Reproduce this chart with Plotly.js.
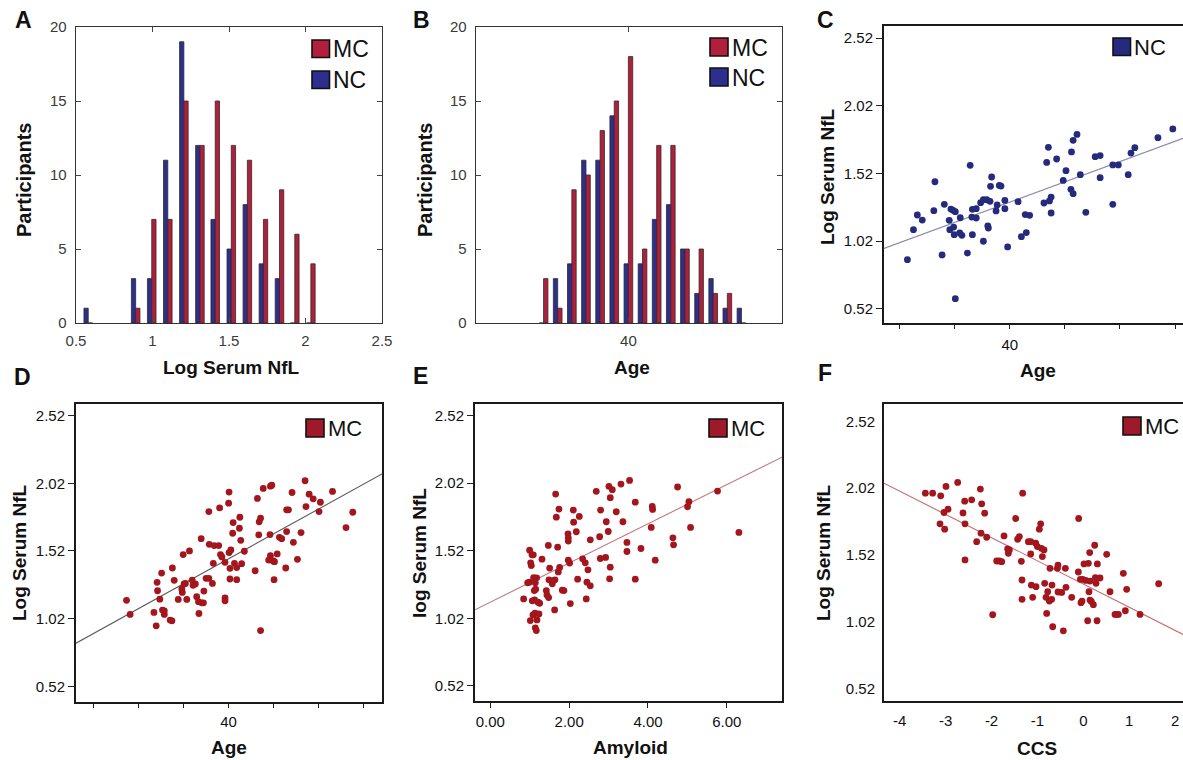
<!DOCTYPE html>
<html><head><meta charset="utf-8">
<script src="https://cdn.plot.ly/plotly-3.0.1.min.js"></script>
<style>html,body{margin:0;padding:0;background:#fff}</style>
</head><body><div id="chart" style="width:1183px;height:760px"></div>
<script>
// ---------- Panel A: histogram of log serum NfL ----------
const nflBins = [0.58, 0.89, 0.995, 1.10, 1.205, 1.31, 1.41, 1.515, 1.62, 1.725, 1.83, 1.93, 2.035];
const nflNC = [1, 3, 3, 11, 19, 12, 7, 5, 8, 4, 3, 0, 0];
const nflMC = [0, 1, 7, 7, 15, 12, 15, 12, 11, 7, 9, 6, 4];
const nflTicks = [0.5, 1, 1.5, 2, 2.5];
const nflTickText = ['0.5', '1', '1.5', '2', '2.5'];

// ---------- Panel B: histogram of age ----------
const ageBins = [22, 25, 28, 31, 34, 37, 40, 43, 46, 49, 52, 55, 58, 61, 64];
const ageNC = [0, 3, 4, 11, 11, 14, 4, 4, 7, 8, 5, 2, 3, 1, 1];
const ageMC = [3, 1, 9, 10, 13, 15, 18, 5, 12, 12, 5, 5, 2, 2, 0];
const countTicks = [0, 5, 10, 15, 20];

// ---------- Panel C: NC age vs log NfL ----------
const ncAge = [21.4,22.5,23.2,24.1,26.2,26.4,27.7,28.1,29.0,29.3,29.7,30.1,29.1,29.8,29.9,30.1,31.0,30.9,31.3,32.3,32.8,33.1,33.2,33.9,33.9,33.2,34.7,35.2,35.8,36.0,36.1,35.2,36.4,36.7,36.5,37.5,37.7,38.1,38.4,39.1,39.1,39.6,41.5,42.1,43.0,42.8,43.6,46.2,46.7,47.0,47.2,47.5,47.5,48.5,49.7,50.2,51.1,51.5,51.2,51.5,52.2,52.8,53.8,55.5,56.4,56.4,58.7,59.7,58.7,61.5,62.0,62.7,66.9,69.6];
const ncNfl = [0.882,1.104,1.212,1.175,1.244,1.458,0.917,1.291,1.173,1.256,1.247,1.237,1.104,1.123,1.067,0.594,1.192,1.079,1.062,0.931,1.579,1.197,1.254,1.259,1.190,1.067,1.303,1.325,1.325,1.131,1.116,1.018,1.313,1.493,1.424,1.242,1.286,1.431,1.426,1.320,1.259,0.976,1.311,1.052,1.082,1.215,1.210,1.301,1.601,1.712,1.316,1.345,1.227,1.626,1.468,1.540,1.402,1.370,1.678,1.764,1.808,1.510,1.232,1.643,1.651,1.488,1.582,1.582,1.291,1.510,1.670,1.710,1.784,1.848];

// ---------- Panel D: MC age vs log NfL ----------
const mcAge = [17.3,18.1,23.4,23.9,24.1,24.2,24.7,25.1,25.3,25.7,25.7,27.0,27.4,27.5,27.9,28.8,29.6,29.7,29.9,30.1,30.4,30.7,31.3,31.9,32.1,32.6,32.9,33.3,33.4,33.9,34.0,34.4,34.5,35.0,35.6,35.6,35.7,36.4,36.6,36.8,37.8,38.0,38.2,38.5,39.2,39.2,39.2,40.0,40.1,40.1,40.3,40.3,40.5,40.9,41.0,41.3,41.8,41.8,42.4,42.5,42.7,42.9,43.5,45.9,46.4,46.7,46.8,47.1,47.1,47.7,49.2,49.3,49.6,49.3,49.9,50.1,50.2,50.8,51.3,51.8,52.7,52.9,52.9,53.3,54.1,54.4,55.3,56.1,57.0,57.2,57.9,58.8,60.1,60.4,63.1,66.1,67.6,48.9];
const mcNflAge = [1.155,1.051,1.066,0.967,1.288,1.226,1.164,1.357,1.083,1.051,1.078,1.009,1.004,1.394,1.303,1.162,1.239,1.214,1.493,1.276,1.280,1.162,1.520,1.305,1.266,1.276,1.182,1.145,1.058,1.611,1.137,1.137,1.224,1.318,1.811,1.318,1.569,1.280,1.429,1.560,1.560,1.839,1.493,1.476,1.436,1.174,1.152,1.873,1.955,1.508,1.392,1.313,1.527,1.651,1.730,1.429,1.397,1.308,1.688,1.769,1.599,1.426,1.518,1.374,1.908,1.639,1.735,1.762,0.932,1.982,1.641,1.999,2.006,1.485,1.446,1.308,1.441,1.498,1.621,1.611,1.394,1.663,1.824,1.824,1.952,1.584,1.458,1.656,2.039,1.848,1.940,1.905,1.811,1.880,1.960,1.693,1.806,1.453];

// ---------- Panel E: MC amyloid vs log NfL ----------
const mcAmy = [0.845,0.947,0.989,0.997,1.014,1.023,1.040,1.057,1.065,1.082,1.090,1.099,1.116,1.124,1.133,1.141,1.141,1.150,1.167,1.175,1.183,1.209,1.234,1.251,1.310,1.420,1.437,1.471,1.479,1.488,1.505,1.572,1.589,1.631,1.640,1.657,1.674,1.708,1.724,1.741,1.758,1.826,1.868,1.970,1.978,1.978,1.978,2.012,2.029,2.105,2.113,2.181,2.215,2.257,2.342,2.409,2.434,2.451,2.477,2.536,2.536,2.688,2.773,2.798,2.790,2.925,2.942,2.992,3.009,3.043,3.043,3.026,3.094,3.195,3.314,3.364,3.466,3.466,3.533,3.677,3.677,3.821,4.083,4.108,4.117,4.184,4.632,4.649,4.751,5.004,5.038,5.080,5.765,6.306];
const mcNflAmy = [1.164,1.283,1.288,1.525,1.004,1.431,1.411,1.490,1.150,1.046,1.490,1.322,1.226,1.157,1.058,1.283,0.950,1.236,0.930,1.320,1.009,1.140,1.053,1.132,1.458,1.226,1.194,1.560,1.174,1.305,1.392,1.276,1.300,1.083,1.305,1.940,1.769,1.547,1.364,1.829,1.397,1.229,1.226,1.646,1.616,1.592,1.451,1.429,1.130,1.821,1.732,1.661,1.310,1.774,1.461,1.431,1.164,1.288,1.379,1.601,1.261,1.960,1.624,1.821,1.463,1.471,1.735,1.663,1.997,1.913,1.399,1.313,1.972,1.809,2.014,1.735,1.582,1.515,2.041,1.880,1.310,1.537,1.693,1.848,1.826,1.451,1.616,1.564,1.992,1.846,1.883,1.693,1.962,1.656];

// ---------- Panel F: MC CCS vs log NfL ----------
const mcCcs = [-3.442,-3.283,-3.108,-3.036,-2.992,-2.948,-3.123,-3.021,-2.738,-2.622,-2.585,-2.578,-2.578,-2.433,-2.324,-2.244,-2.215,-2.230,-2.150,-2.106,-1.975,-1.888,-1.830,-1.779,-1.728,-1.649,-1.634,-1.612,-1.474,-1.431,-1.394,-1.351,-1.336,-1.336,-1.322,-1.198,-1.147,-1.147,-1.133,-1.104,-1.038,-1.031,-1.002,-0.959,-0.930,-0.915,-0.893,-0.857,-0.842,-0.813,-0.799,-0.777,-0.741,-0.726,-0.690,-0.683,-0.668,-0.566,-0.552,-0.552,-0.472,-0.436,-0.392,-0.378,-0.254,-0.109,-0.102,-0.065,-0.051,-0.029,-0.015,0.015,0.051,0.094,0.109,0.123,0.138,0.145,0.145,0.174,0.218,0.247,0.261,0.276,0.305,0.298,0.363,0.508,0.581,0.690,0.726,0.763,0.871,0.915,0.944,1.235,1.641];
const mcNflCcs = [1.983,1.983,1.963,1.838,2.033,1.863,1.753,1.713,2.063,1.835,1.923,1.753,1.483,1.933,1.620,2.013,1.903,1.683,1.833,1.653,1.073,1.475,1.475,1.470,1.663,1.565,1.533,1.558,1.793,1.638,1.658,1.473,1.333,1.188,1.983,1.620,1.620,1.528,1.295,1.203,1.608,1.283,1.583,1.713,1.753,1.570,1.508,1.558,1.308,1.203,1.083,1.245,1.175,1.420,1.188,1.295,0.983,1.420,1.445,1.243,1.240,0.953,1.420,1.278,1.203,1.393,1.793,1.338,1.163,1.175,1.338,1.453,1.330,1.028,1.458,1.245,1.538,1.325,1.183,1.173,1.148,1.593,1.350,1.308,1.453,1.028,1.348,1.525,1.245,1.075,1.075,1.075,1.383,1.103,1.263,1.075,1.305];

const nflTickVals = [0.52, 1.02, 1.52, 2.02, 2.52];
const ageTickVals = [10, 20, 30, 40, 50, 60, 70];
const ageTickText = ['', '', '', '40', '', '', ''];
const amyTickVals = [0, 2, 4, 6];
const ccsTickVals = [-4, -3, -2, -1, 0, 1, 2];

// ---------- style ----------
const FONT = 'Liberation Sans, Arial, Helvetica, sans-serif';
const W = 1183, H = 760;
const px = v => v / W, py = v => 1 - v / H;
const COL = {
  mcBar: '#b11f3a', ncBar: '#2c2f8d', barLine: '#2b2b2b',
  mcDot: '#a3161e', ncDot: '#262a7c',
  mcBox: '#9e1a2b', ncBox: '#252a7e'
};

function fit(xs, ys) {
  const n = xs.length;
  const mx = xs.reduce((a, b) => a + b, 0) / n, my = ys.reduce((a, b) => a + b, 0) / n;
  let sxy = 0, sxx = 0;
  for (let i = 0; i < n; i++) { sxy += (xs[i] - mx) * (ys[i] - my); sxx += (xs[i] - mx) ** 2; }
  const b = sxy / sxx; return { b, a: my - b * mx };
}

const ranges = {
  A: { x: [0.5, 2.5], y: [0, 20] },
  B: { x: [7.66, 72.6], y: [0, 20] },
  C: { x: [17.15, 71.45], y: [0.414, 2.609] },
  D: { x: [6.07, 74.1], y: [0.404, 2.606] },
  E: { x: [-0.389, 7.40], y: [0.409, 2.606] },
  F: { x: [-4.343, 2.171], y: [0.4275, 2.65] }
};

const traces = [];
// A bars
traces.push({ type: 'bar', x: nflBins, y: nflNC, xaxis: 'x', yaxis: 'y', width: 0.028, offset: -0.028,
  marker: { color: COL.ncBar, line: { color: COL.barLine, width: 0.8 } }, showlegend: false });
traces.push({ type: 'bar', x: nflBins, y: nflMC, xaxis: 'x', yaxis: 'y', width: 0.028, offset: 0,
  marker: { color: COL.mcBar, line: { color: COL.barLine, width: 0.8 } }, showlegend: false });
// B bars
traces.push({ type: 'bar', x: ageBins, y: ageNC, xaxis: 'x2', yaxis: 'y2', width: 0.92, offset: -0.92,
  marker: { color: COL.ncBar, line: { color: COL.barLine, width: 0.8 } }, showlegend: false });
traces.push({ type: 'bar', x: ageBins, y: ageMC, xaxis: 'x2', yaxis: 'y2', width: 0.92, offset: 0,
  marker: { color: COL.mcBar, line: { color: COL.barLine, width: 0.8 } }, showlegend: false });

function scatterPanel(xs, ys, xa, ya, dot, lineColor, r) {
  const f = fit(xs, ys);
  traces.push({ type: 'scatter', mode: 'lines', x: r.x, y: r.x.map(v => f.a + f.b * v), xaxis: xa, yaxis: ya,
    line: { color: lineColor, width: 1.1 }, showlegend: false, hoverinfo: 'skip' });
  traces.push({ type: 'scatter', mode: 'markers', x: xs, y: ys, xaxis: xa, yaxis: ya,
    marker: { color: dot, size: 6.8 }, showlegend: false });
}
scatterPanel(ncAge, ncNfl, 'x3', 'y3', COL.ncDot, '#8b8bab', ranges.C);
scatterPanel(mcAge, mcNflAge, 'x4', 'y4', COL.mcDot, '#5a5a5a', ranges.D);
scatterPanel(mcAmy, mcNflAmy, 'x5', 'y5', COL.mcDot, '#c27a7e', ranges.E);
scatterPanel(mcCcs, mcNflCcs, 'x6', 'y6', COL.mcDot, '#c46a6e', ranges.F);

const histTick = { family: FONT, size: 15, color: '#3a3a3a' };
const scatTick = { family: FONT, size: 15, color: '#111' };

function histX(dom, r, tv, tt) {
  return { domain: [px(dom[0]), px(dom[1])], range: r, tickvals: tv, ticktext: tt, ticks: 'inside', ticklen: 5,
    tickcolor: '#444', showline: true, mirror: 'ticks', linecolor: '#333', linewidth: 1.4, showgrid: false,
    zeroline: false, tickfont: histTick, ticklabelstandoff: 4, fixedrange: true };
}
function histY(dom, r) {
  return { domain: [py(dom[1]), py(dom[0])], range: r, tickvals: countTicks, ticks: 'inside', ticklen: 5,
    tickcolor: '#444', showline: true, mirror: 'ticks', linecolor: '#333', linewidth: 1.4, showgrid: false,
    zeroline: false, tickfont: histTick, ticklabelstandoff: 5, fixedrange: true };
}
function scatX(dom, r, tv, tt, opts) {
  return Object.assign({ domain: [px(dom[0]), Math.min(1, px(dom[1]))], range: r, tickvals: tv, ticktext: tt,
    ticks: 'outside', ticklen: 4, tickcolor: '#222', showline: true, mirror: true, linecolor: '#1a1a1a',
    linewidth: 2, showgrid: false, zeroline: false, tickfont: scatTick, ticklabelstandoff: 1 }, opts || {});
}
function scatY(dom, r, opts) {
  return Object.assign({ domain: [py(dom[1]), py(dom[0])], range: r, tickvals: nflTickVals,
    ticktext: nflTickVals.map(v => v.toFixed(2)), ticks: 'outside', ticklen: 6, tickcolor: '#222',
    showline: true, mirror: true, linecolor: '#1a1a1a', linewidth: 2, showgrid: false, zeroline: false,
    tickfont: scatTick }, opts || {});
}

const layout = {
  width: W, height: H, margin: { l: 0, r: 0, t: 0, b: 0 }, paper_bgcolor: '#fff', plot_bgcolor: '#fff',
  barmode: 'overlay', showlegend: false, font: { family: FONT },
  xaxis: histX([76, 382], ranges.A.x, nflTicks, nflTickText),
  yaxis: histY([27, 323], ranges.A.y),
  xaxis2: Object.assign(histX([476, 782], ranges.B.x, [40], ['40']), { anchor: 'y2' }),
  yaxis2: Object.assign(histY([27, 323], ranges.B.y), { anchor: 'x2' }),
  xaxis3: scatX([884, 1183], ranges.C.x, ageTickVals, ageTickText, { anchor: 'y3', ticklabelstandoff: 3 }),
  yaxis3: scatY([26, 323], ranges.C.y, { anchor: 'x3', mirror: false }),
  xaxis4: scatX([76, 382], ranges.D.x, ageTickVals, ageTickText, { anchor: 'y4' }),
  yaxis4: scatY([404, 702], ranges.D.y, { anchor: 'x4' }),
  xaxis5: scatX([475, 782], ranges.E.x, amyTickVals, amyTickVals.map(v => v.toFixed(2)), { anchor: 'y5', ticklen: 5 }),
  yaxis5: scatY([404, 701], ranges.E.y, { anchor: 'x5' }),
  xaxis6: scatX([884, 1183], ranges.F.x, ccsTickVals, ccsTickVals.map(String), { anchor: 'y6', ticks: '', ticklabelstandoff: 5 }),
  yaxis6: scatY([404, 701], ranges.F.y, { anchor: 'x6', mirror: false, ticks: '', ticklabelstandoff: 4 }),
  shapes: [], annotations: []
};

function ann(text, x, y, size, opts) {
  layout.annotations.push(Object.assign({ text, x: px(x), y: py(y), xref: 'paper', yref: 'paper', showarrow: false,
    xanchor: 'center', yanchor: 'middle', font: { family: FONT, size, color: '#111' } }, opts || {}));
}
// panel letters
[['A', 23, 20], ['B', 421, 20], ['C', 825, 20], ['D', 22, 377], ['E', 420, 376], ['F', 825, 373]]
  .forEach(([t, x, y]) => ann('<b>' + t + '</b>', x, y, 23));
// axis titles
ann('<b>Log Serum NfL</b>', 232, 368, 19);
ann('<b>Participants</b>', 24, 180, 20, { textangle: -90 });
ann('<b>Age</b>', 632, 368, 19);
ann('<b>Participants</b>', 425, 180, 20, { textangle: -90 });
ann('<b>Age</b>', 1038, 370, 19);
ann('<b>Log Serum NfL</b>', 827, 177, 19, { textangle: -90 });
ann('<b>Age</b>', 229, 747, 19);
ann('<b>Log Serum NfL</b>', 19, 553, 19, { textangle: -90 });
ann('<b>Amyloid</b>', 630, 747, 19);
ann('<b>log Serum NfL</b>', 419, 553, 19, { textangle: -90 });
ann('<b>CCS</b>', 1037, 748, 19);
ann('<b>Log Serum NfL</b>', 823, 553, 19, { textangle: -90 });

// legends (box + label)
function legend(label, fill, x0, y0, size, fs) {
  layout.shapes.push({ type: 'rect', xref: 'paper', yref: 'paper', x0: px(x0), x1: px(x0 + size),
    y0: py(y0 + size), y1: py(y0), fillcolor: fill, line: { color: '#111', width: 1.6 } });
  ann(label, x0 + size + 1.5, y0 + size / 2 + 0.5, fs, { xanchor: 'left' });
}
legend('MC', COL.mcBar, 312, 40, 17.5, 23);
legend('NC', COL.ncBar, 312, 71, 17.5, 23);
legend('MC', COL.mcBar, 710, 38, 18, 23);
legend('NC', COL.ncBar, 710, 68, 18, 23);
legend('NC', COL.ncBox, 1113, 38, 17.5, 22);
legend('MC', COL.mcBox, 306, 419, 18, 22);
legend('MC', COL.mcBox, 709, 419, 18, 22);
legend('MC', COL.mcBox, 1123, 417, 18, 22);

Plotly.newPlot('chart', traces, layout, { staticPlot: true, displayModeBar: false });
</script></body></html>
